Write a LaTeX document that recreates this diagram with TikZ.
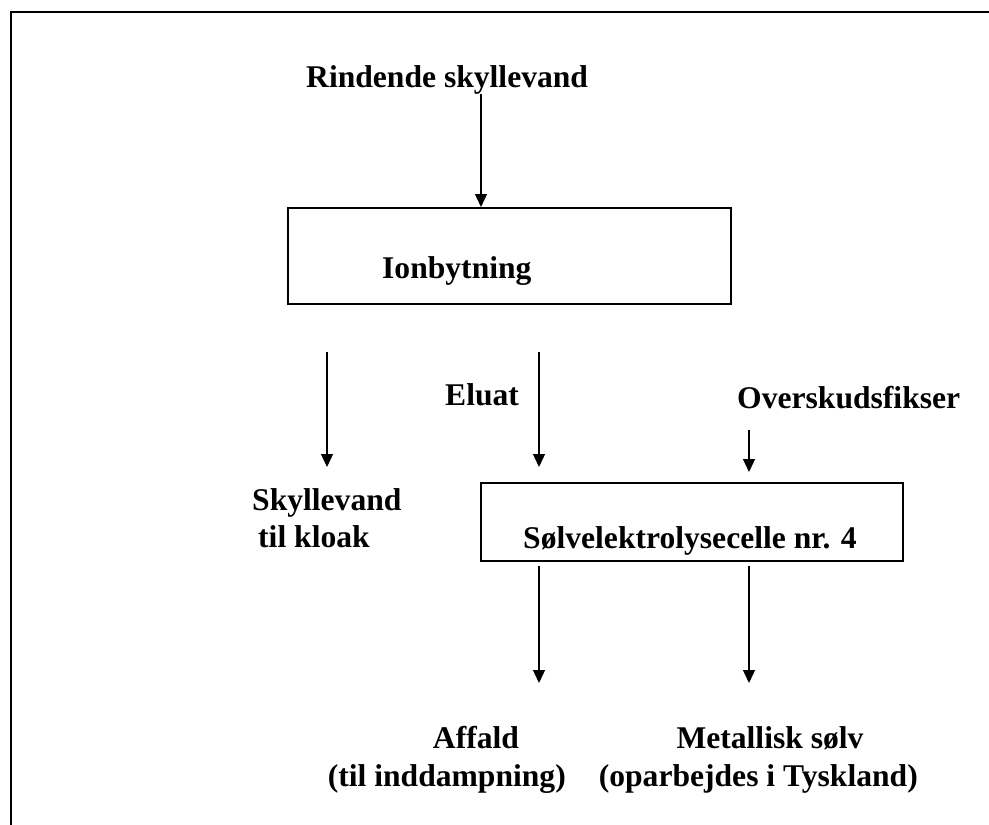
\documentclass[tikz,border=0pt]{standalone}
\usepackage{fontspec}
\setmainfont{Liberation Serif}
\usetikzlibrary{arrows.meta}
\begin{document}
\begin{tikzpicture}[x=1pt,y=-1pt,
  lbl/.style={font=\fontsize{31.6}{38}\selectfont\bfseries, inner sep=0pt, anchor=base west},
  lblc/.style={lbl, anchor=base},
  proc/.style={draw, line width=2pt, inner sep=0pt},
  flow/.style={line width=1.3pt, -{Triangle[width=12pt,length=13pt]}},
]
\useasboundingbox (0,0) rectangle (989,825);
\clip (0,0) rectangle (989,825);
% page frame (open at bottom and right)
\draw[line width=2.5pt] (11,828) -- (11,12) -- (992,12);

% inflow
\node[lbl] (inflow) at (306,87) {Rindende skyllevand};
\coordinate (inflowend) at (481,94);

% ion exchange
\node[proc, minimum width=443pt, minimum height=96pt] (ion) at (509.5,256) {};
\node[lbl] (iontxt) at (382,278) {Ionbytning};
\draw[flow] (inflowend) -- (inflowend |- ion.north);

% rinse water to sewer
\coordinate (sewA) at (327,352);
\coordinate (sewB) at (327,467);
\draw[flow] (sewA) -- (sewB);
\node[lbl] (sew1) at (252,510) {Skyllevand};
\node[lbl] (sew2) at (258,547) {til kloak};

% eluate
\coordinate (eluA) at (539,352);
\coordinate (eluB) at (539,467);
\draw[flow] (eluA) -- (eluB);
\node[lbl] (elu) at (445,405) {Eluat};

% surplus fixer
\node[lbl] (fix) at (737,408) {Overskudsfikser};
\coordinate (fixA) at (749,430);
\coordinate (fixB) at (749,472);
\draw[flow] (fixA) -- (fixB);

% silver electrolysis cell
\node[proc, minimum width=422pt, minimum height=78pt] (cell) at (692,522) {};
\node[lbl] (celltxt) at (523,548) {Sølvelektrolysecelle nr. 4};

% outputs
\coordinate (wasteA) at (539,566);
\coordinate (wasteB) at (539,683);
\draw[flow] (wasteA) -- (wasteB);
\coordinate (agA) at (749,566);
\coordinate (agB) at (749,683);
\draw[flow] (agA) -- (agB);

\node[lblc] (waste1) at (476,748) {Affald};
\node[lbl, anchor=base east] (waste2) at (566,786) {(til inddampning)};
\node[lblc] (ag1) at (770,748) {Metallisk sølv};
\node[lbl, anchor=base east] (ag2) at (918,786) {(oparbejdes i Tyskland)};
\end{tikzpicture}
\end{document}
